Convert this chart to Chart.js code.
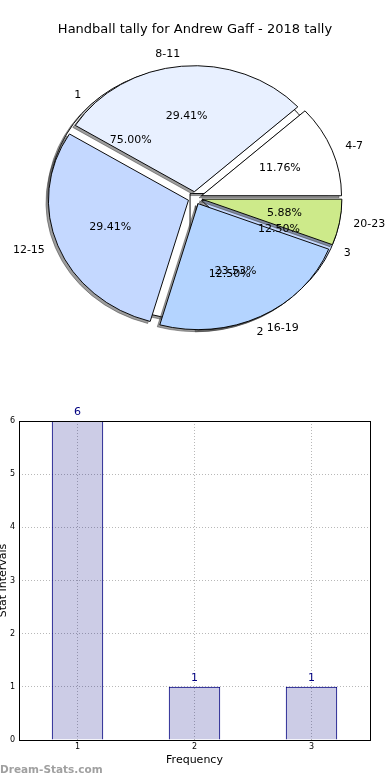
<!DOCTYPE html>
<html lang="en">
<head>
    <meta charset="UTF-8">
    <title>Handball tally</title>
    <script src="https://cdn.jsdelivr.net/npm/chart.js"></script>
    <style>
        body { margin: 0; background: #fff; font-family: "DejaVu Sans", sans-serif; }
        .pie-box { position: absolute; left: 0; top: 0; width: 390px; height: 400px; }
        #bar-box { position: absolute; left: 0; top: 400px; width: 390px; height: 380px; }
        #mark { position: absolute; left: 0; top: 763px; font-size: 10.5px; font-weight: bold; color: #a0a0a0; }
    </style>
</head>
<body>
    <div class="pie-box"><canvas id="pie-under"></canvas></div>
    <div class="pie-box"><canvas id="pie-chart"></canvas></div>
    <div id="bar-box"><canvas id="bar-chart"></canvas></div>
    <div id="mark">Dream-Stats.com</div>

    <script>
        // stat intervals (outer labels) and counts
        const intervalLabels = ['4-7', '8-11', '12-15', '16-19', '20-23'];
        const intervalCounts = [2, 5, 5, 4, 1];
        const intervalColors = ['#ffffff', '#e8f0ff', '#c4d8ff', '#b4d4ff', '#cdea8a'];

        // frequency tally
        const freqLabels = ['1', '2', '3'];
        const freqCounts = [6, 1, 1];
        const freqColors = ['#ffffff', '#e8f0ff', '#c4d8ff'];

        const yTicks = [0, 1, 2, 3, 4, 5, 6];

        const FONT = 'DejaVu Sans';
        const SQUASH = 0.9;      // the pie is a bit flat, like the original
        const EXPLODE = 7;       // px each wedge is pushed out
        const FAR = 2000;        // draw off-screen so only the shadow lands

        function pct(v, total) {
            return (v / total * 100).toFixed(2) + '%';
        }

        function midOf(a) {
            return (a.startAngle + a.endAngle) / 2;
        }

        function drawLabels(chart) {
            const ctx = chart.ctx;
            const arcs = chart.getDatasetMeta(0).data;
            const cx = arcs[0].x, cy = arcs[0].y, R = arcs[0].outerRadius;
            const labels = chart.data.labels;
            const values = chart.data.datasets[0].data;
            const total = values.reduce((a, b) => a + b, 0);

            ctx.save();
            ctx.font = '11px "' + FONT + '"';
            ctx.fillStyle = '#000';
            ctx.textBaseline = 'middle';

            const put = (ang, name, text) => {
                const c = Math.cos(ang), s = Math.sin(ang);
                const ox = c * EXPLODE, oy = s * EXPLODE * SQUASH;
                ctx.textAlign = 'center';
                ctx.fillText(text, cx + ox + c * R * 0.6, cy + oy + s * R * 0.6 * SQUASH);
                ctx.textAlign = c > 0 ? 'left' : 'right';
                ctx.fillText(name, cx + ox + c * R * 1.1, cy + oy + s * R * 1.1 * SQUASH);
            };

            // the frequency pie sits under this one, counter-clockwise from east
            const total2 = freqCounts.reduce((a, b) => a + b, 0);
            let acc = 0;
            freqCounts.forEach((v, i) => {
                const mid = (acc + v / 2) / total2 * 2 * Math.PI;
                acc += v;
                put(-mid, freqLabels[i], pct(v, total2));
            });

            arcs.forEach((a, i) => put(midOf(a), labels[i], pct(values[i], total)));
            ctx.restore();
        }

        // flat, exploded pie with a drop shadow under every wedge
        function flatPie(withLabels) {
            return {
                id: 'flatPie',
                beforeDatasetsDraw(chart) {
                    const arcs = chart.getDatasetMeta(0).data;
                    const ctx = chart.ctx;
                    const cx = arcs[0].x, cy = arcs[0].y;
                    ctx.save();
                    ctx.translate(cx, cy);
                    ctx.scale(1, SQUASH);
                    ctx.translate(-cx, -cy);

                    arcs.forEach(a => {
                        a._home = [a.x, a.y];
                        a.x += Math.cos(midOf(a)) * EXPLODE;
                        a.y += Math.sin(midOf(a)) * EXPLODE;
                    });

                    ctx.save();
                    ctx.translate(FAR, 0);
                    ctx.shadowColor = 'rgba(60,60,60,0.5)';
                    ctx.shadowOffsetX = -FAR - 2.5;
                    ctx.shadowOffsetY = 2;
                    arcs.forEach(a => a.draw(ctx));
                    ctx.restore();
                },
                afterDatasetsDraw(chart) {
                    chart.ctx.restore();
                    chart.getDatasetMeta(0).data.forEach(a => {
                        a.x = a._home[0];
                        a.y = a._home[1];
                    });
                    if (withLabels) drawLabels(chart);
                }
            };
        }

        function pieOptions(showTitle) {
            return {
                responsive: true,
                maintainAspectRatio: false,
                animation: false,
                events: [],
                rotation: 90,
                layout: { padding: { top: showTitle ? 0 : 47.6, bottom: 51.6, left: 0, right: 0 } },
                plugins: {
                    legend: { display: false },
                    tooltip: { enabled: false },
                    title: {
                        display: showTitle,
                        text: 'Handball tally for Andrew Gaff - 2018 tally',
                        color: '#000',
                        font: { family: FONT, size: 13, weight: 'normal' },
                        padding: { top: 22, bottom: 10 }
                    }
                }
            };
        }

        // chart.js goes clockwise, the original goes the other way, so reverse
        new Chart(document.getElementById('pie-under'), {
            type: 'pie',
            data: {
                labels: freqLabels.slice().reverse(),
                datasets: [{
                    data: freqCounts.slice().reverse(),
                    backgroundColor: freqColors.slice().reverse(),
                    borderColor: '#000',
                    borderWidth: 1,
                    radius: 140
                }]
            },
            options: pieOptions(false),
            plugins: [flatPie(false)]
        });

        new Chart(document.getElementById('pie-chart'), {
            type: 'pie',
            data: {
                labels: intervalLabels.slice().reverse(),
                datasets: [{
                    data: intervalCounts.slice().reverse(),
                    backgroundColor: intervalColors.slice().reverse(),
                    borderColor: '#000',
                    borderWidth: 1,
                    radius: 140
                }]
            },
            options: pieOptions(true),
            plugins: [flatPie(true)]
        });

        // frame + value labels on the bars
        const barPlugin = {
            id: 'barPlugin',
            afterDatasetsDraw(chart) {
                const ctx = chart.ctx;
                const area = chart.chartArea;
                ctx.save();
                ctx.strokeStyle = '#000';
                ctx.lineWidth = 1;
                ctx.strokeRect(area.left + 0.5, area.top + 0.5, area.right - area.left, area.bottom - area.top);

                ctx.font = '11px "' + FONT + '"';
                ctx.fillStyle = '#000080';
                ctx.textAlign = 'center';
                ctx.textBaseline = 'bottom';
                chart.getDatasetMeta(0).data.forEach((bar, i) => {
                    ctx.fillText(String(chart.data.datasets[0].data[i]), bar.x, bar.y - 3);
                });
                ctx.restore();
            }
        };

        new Chart(document.getElementById('bar-chart'), {
            type: 'bar',
            data: {
                labels: freqLabels,
                datasets: [{
                    data: freqCounts,
                    backgroundColor: 'rgba(0,0,128,0.2)',
                    borderColor: '#000080',
                    borderWidth: 1,
                    categoryPercentage: 1,
                    barPercentage: 0.44
                }]
            },
            options: {
                responsive: true,
                maintainAspectRatio: false,
                animation: false,
                events: [],
                layout: { padding: { top: 21, right: 20, bottom: 0, left: 0 } },
                plugins: {
                    legend: { display: false },
                    tooltip: { enabled: false }
                },
                scales: {
                    x: {
                        offset: true,
                        grid: { offset: false, color: '#b8b8b8', drawTicks: false },
                        border: { display: false, dash: [1, 2] },
                        ticks: { color: '#000', padding: 2, font: { family: FONT, size: 8 } },
                        title: {
                            display: true,
                            text: 'Frequency',
                            color: '#000',
                            font: { family: FONT, size: 11 },
                            padding: { top: 0, bottom: 13 }
                        },
                        afterFit(scale) { scale.height = 40; }
                    },
                    y: {
                        min: 0,
                        max: 6,
                        afterBuildTicks(scale) { scale.ticks = yTicks.map(v => ({ value: v })); },
                        grid: { color: '#b8b8b8', drawTicks: false },
                        border: { display: false, dash: [1, 2] },
                        ticks: { color: '#000', padding: 4, font: { family: FONT, size: 8 } },
                        title: {
                            display: true,
                            text: 'Stat Intervals',
                            color: '#000',
                            font: { family: FONT, size: 11 },
                            padding: { top: -3, bottom: 0 }
                        },
                        afterFit(scale) { scale.width = 19; }
                    }
                }
            },
            plugins: [barPlugin]
        });
    </script>
</body>
</html>
